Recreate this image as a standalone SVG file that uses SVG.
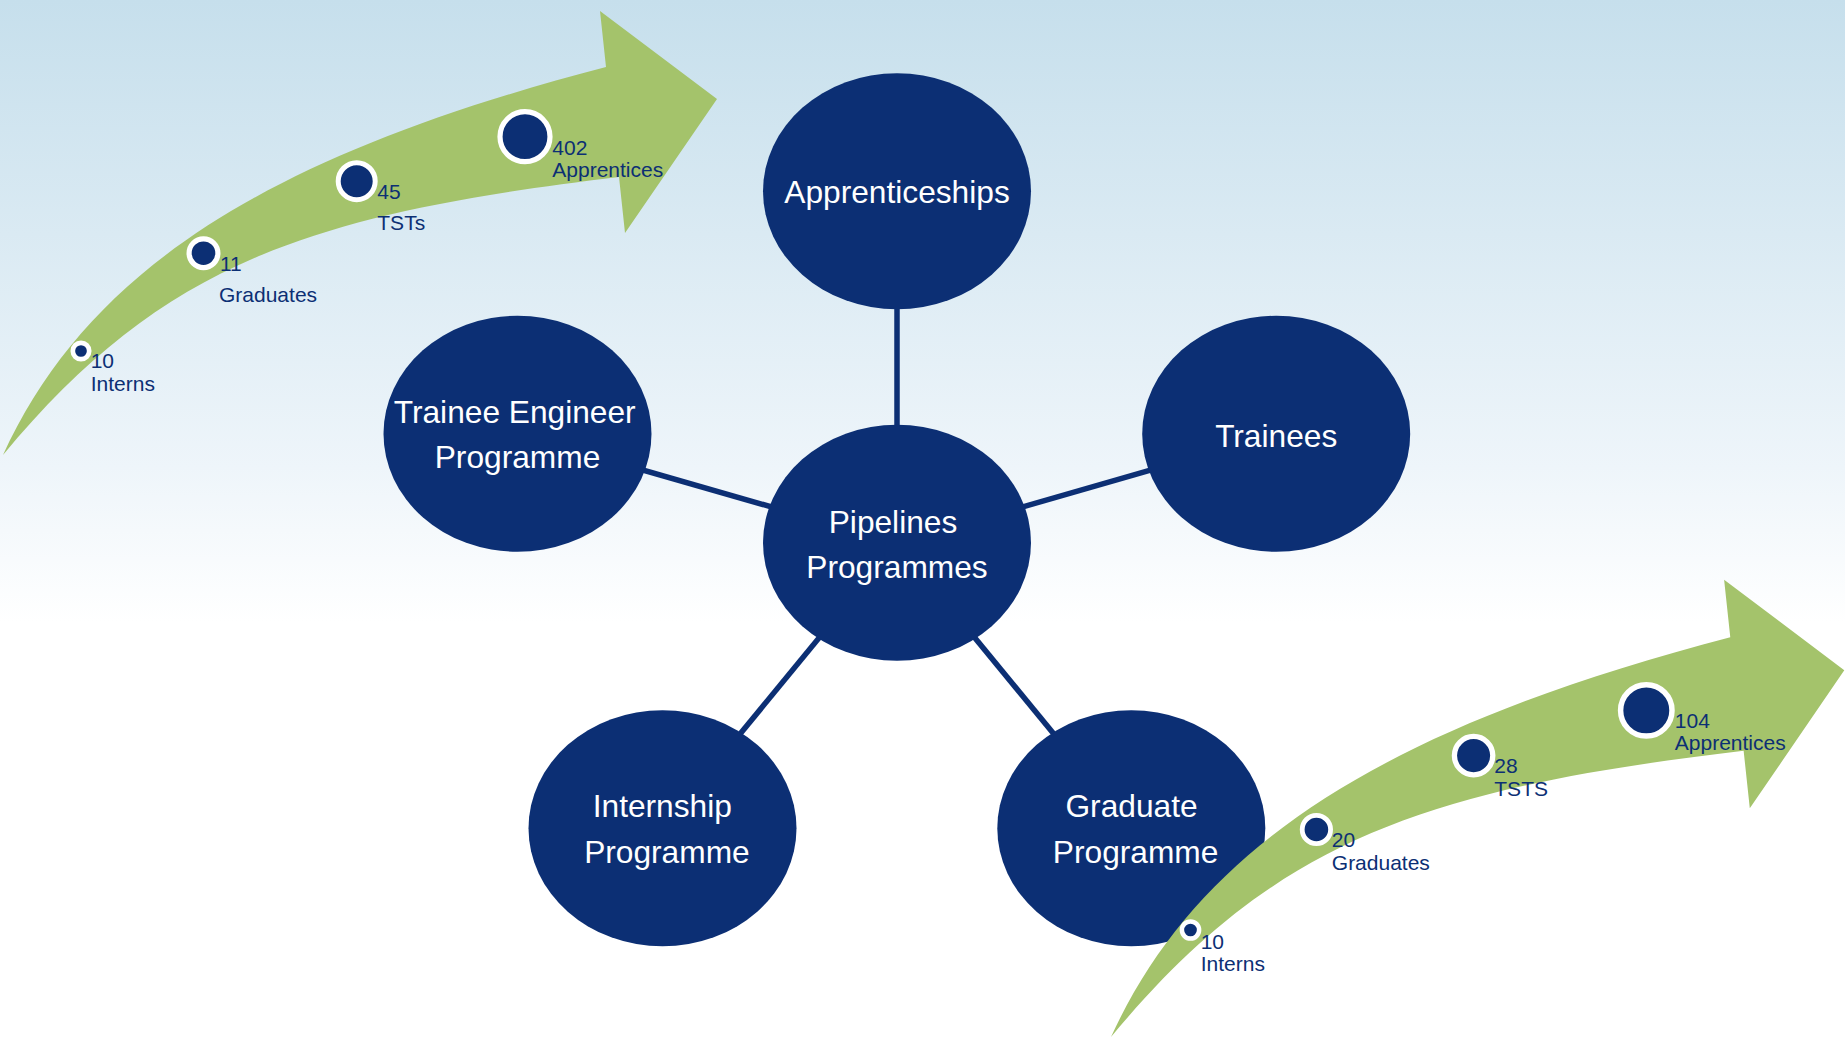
<svg xmlns="http://www.w3.org/2000/svg" xmlns:xlink="http://www.w3.org/1999/xlink" width="1845" height="1038" viewBox="0 0 1845 1038">
  <defs>
    <linearGradient id="bg" x1="0" y1="0" x2="0" y2="1">
      <stop offset="0" stop-color="#c6dfec"/>
      <stop offset="0.45" stop-color="#eef5fa"/>
      <stop offset="0.6" stop-color="#ffffff"/>
      <stop offset="1" stop-color="#ffffff"/>
    </linearGradient>
    <path id="arrowShape" d="M 3,455 C 90,265 276,153 606,67 L 600,11 L 717,99 L 625,233 L 619,177 C 309,214 163,263 3,455 Z"/>
  </defs>
  <style>
    .node { fill: #0c2f74; }
    .ntext { fill: #ffffff; font-family: "Liberation Sans", Arial, sans-serif; font-size: 31.7px; text-anchor: middle; }
    .conn { stroke: #0c2f74; stroke-width: 5.5; fill: none; }
    .arrow { fill: #a4c36b; }
    .bub { fill: #0c2f74; stroke: #ffffff; }
    .lbl { fill: #0c2f74; font-family: "Liberation Sans", Arial, sans-serif; font-size: 21px; }
  </style>

  <rect x="0" y="0" width="1845" height="1038" fill="url(#bg)"/>

  <g id="connectors">
    <line class="conn" x1="897" y1="543" x2="897" y2="191"/>
    <line class="conn" x1="897" y1="543" x2="517.5" y2="434"/>
    <line class="conn" x1="897" y1="543" x2="1276.2" y2="434"/>
    <line class="conn" x1="897" y1="543" x2="662.5" y2="828.3"/>
    <line class="conn" x1="897" y1="543" x2="1131.3" y2="828.3"/>
  </g>

  <g id="node-apprenticeships">
    <ellipse class="node" cx="897" cy="191.3" rx="134" ry="118"/>
    <text class="ntext" x="897" y="203.3">Apprenticeships</text>
  </g>
  <g id="node-trainee-engineer">
    <ellipse class="node" cx="517.5" cy="433.8" rx="134" ry="118"/>
    <text class="ntext" x="514.7" y="423.3">Trainee Engineer</text>
    <text class="ntext" x="517.5" y="467.5">Programme</text>
  </g>
  <g id="node-trainees">
    <ellipse class="node" cx="1276.2" cy="433.8" rx="134" ry="118"/>
    <text class="ntext" x="1276.2" y="446.7">Trainees</text>
  </g>
  <g id="node-pipelines">
    <ellipse class="node" cx="897" cy="542.8" rx="134" ry="118"/>
    <text class="ntext" x="893" y="532.7">Pipelines</text>
    <text class="ntext" x="897" y="578">Programmes</text>
  </g>
  <g id="node-internship">
    <ellipse class="node" cx="662.5" cy="828.3" rx="134" ry="118"/>
    <text class="ntext" x="662.3" y="817.3">Internship</text>
    <text class="ntext" x="666.9" y="863.3">Programme</text>
  </g>
  <g id="node-graduate">
    <ellipse class="node" cx="1131.3" cy="828.3" rx="134" ry="118"/>
    <text class="ntext" x="1131.5" y="817.3">Graduate</text>
    <text class="ntext" x="1135.6" y="863.3">Programme</text>
  </g>

  <g id="arrow-top-left">
    <use xlink:href="#arrowShape" href="#arrowShape" class="arrow"/>
    <circle class="bub" cx="81" cy="351" r="8.2" stroke-width="4.7"/>
    <circle class="bub" cx="203.5" cy="253.2" r="14.4" stroke-width="5.2"/>
    <circle class="bub" cx="356.7" cy="181.2" r="18.5" stroke-width="5"/>
    <circle class="bub" cx="525" cy="136.7" r="25" stroke-width="5.2"/>
    <text class="lbl" x="90.7" y="368.3">10</text>
    <text class="lbl" x="90.7" y="390.7">Interns</text>
    <text class="lbl" x="220" y="271">11</text>
    <text class="lbl" x="219" y="302.3">Graduates</text>
    <text class="lbl" x="377.3" y="199">45</text>
    <text class="lbl" x="377.3" y="229.5">TSTs</text>
    <text class="lbl" x="552.3" y="155">402</text>
    <text class="lbl" x="552.3" y="176.7">Apprentices</text>
  </g>

  <g id="arrow-bottom-right">
    <use xlink:href="#arrowShape" href="#arrowShape" class="arrow" transform="translate(1111,1037) scale(1.027,1.03) translate(-3,-455)"/>
    <circle class="bub" cx="1190.5" cy="930" r="8.6" stroke-width="4.5"/>
    <circle class="bub" cx="1316.4" cy="829.5" r="14.2" stroke-width="4.8"/>
    <circle class="bub" cx="1473.6" cy="755.6" r="19.2" stroke-width="5.3"/>
    <circle class="bub" cx="1646.3" cy="710.4" r="25.7" stroke-width="5.5"/>
    <text class="lbl" x="1200.7" y="949">10</text>
    <text class="lbl" x="1200.7" y="970.5">Interns</text>
    <text class="lbl" x="1331.8" y="847.3">20</text>
    <text class="lbl" x="1331.8" y="870">Graduates</text>
    <text class="lbl" x="1494.3" y="773.3">28</text>
    <text class="lbl" x="1494.3" y="795.7">TSTS</text>
    <text class="lbl" x="1674.8" y="727.7">104</text>
    <text class="lbl" x="1674.8" y="750">Apprentices</text>
  </g>
</svg>
